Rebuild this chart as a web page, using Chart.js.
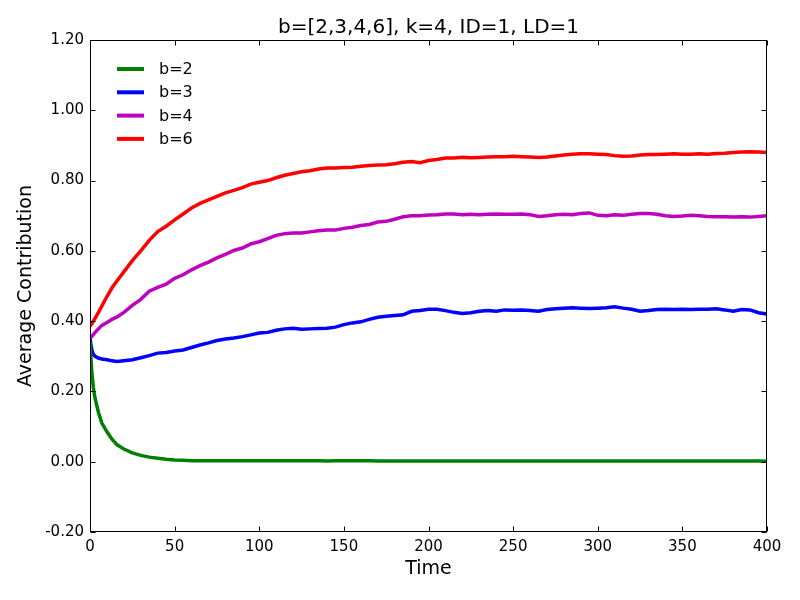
<!DOCTYPE html>
<html>
<head>
<meta charset="utf-8">
<script src="https://cdn.jsdelivr.net/npm/chart.js@4/dist/chart.umd.min.js"></script>
<style>
  html, body { margin: 0; padding: 0; background: #fff; }
  #wrap { width: 800px; height: 600px; }
</style>
</head>
<body>
<div id="wrap"><canvas id="c" width="800" height="600"></canvas></div>
<script>
const chartTitle = "b=[2,3,4,6], k=4, ID=1, LD=1";
const xLabel = "Time";
const yLabel = "Average Contribution";
const seriesLabels = ["b=2", "b=3", "b=4", "b=6"];
const seriesColors = ["#008000", "#0000ff", "#bf00bf", "#ff0000"];

const times = [0,1,2,3,5,7,10,13,16,20,
  25,30,35,40,45,50,55,60,65,70,
  75,80,85,90,95,100,105,110,115,120,
  125,130,135,140,145,150,155,160,165,170,
  175,180,185,190,195,200,205,210,215,220,
  225,230,235,240,245,250,255,260,265,270,
  275,280,285,290,295,300,305,310,315,320,
  325,330,335,340,345,350,355,360,365,370,
  375,380,385,390,395,400];

const b2 = [0.34,0.26,0.21,0.18,0.14,0.11,0.085,0.064,0.048,0.036,
  0.025,0.018,0.013,0.010,0.007,0.005,0.004,0.003,0.003,0.003,
  0.003,0.003,0.003,0.003,0.003,0.003,0.003,0.003,0.003,0.003,
  0.003,0.003,0.003,0.002,0.003,0.003,0.003,0.003,0.003,0.002,
  0.002,0.002,0.002,0.002,0.002,0.002,0.002,0.002,0.002,0.002,
  0.002,0.002,0.002,0.002,0.002,0.002,0.002,0.002,0.002,0.002,
  0.002,0.002,0.002,0.002,0.002,0.002,0.002,0.002,0.002,0.002,
  0.002,0.002,0.002,0.002,0.002,0.002,0.002,0.002,0.002,0.002,
  0.002,0.002,0.002,0.002,0.002,0.001];

const b3 = [0.35,0.32,0.305,0.30,0.295,0.292,0.290,0.287,0.285,0.287,
  0.290,0.296,0.302,0.309,0.311,0.315,0.318,0.325,0.332,0.338,
  0.345,0.349,0.352,0.356,0.361,0.366,0.368,0.374,0.378,0.380,
  0.377,0.378,0.379,0.380,0.383,0.390,0.395,0.398,0.405,0.411,
  0.414,0.416,0.418,0.428,0.430,0.434,0.434,0.430,0.425,0.422,
  0.424,0.428,0.430,0.428,0.432,0.431,0.432,0.430,0.428,0.433,
  0.435,0.437,0.438,0.437,0.436,0.437,0.438,0.441,0.437,0.434,
  0.428,0.430,0.433,0.434,0.433,0.434,0.433,0.434,0.434,0.435,
  0.432,0.428,0.433,0.432,0.424,0.420];

const b4 = [0.352,0.356,0.362,0.368,0.378,0.388,0.396,0.405,0.412,0.425,
  0.445,0.462,0.485,0.496,0.505,0.522,0.532,0.546,0.558,0.568,
  0.580,0.590,0.601,0.608,0.620,0.626,0.635,0.644,0.649,0.651,
  0.651,0.654,0.657,0.659,0.659,0.664,0.667,0.672,0.675,0.682,
  0.684,0.690,0.697,0.700,0.700,0.702,0.703,0.705,0.705,0.703,
  0.704,0.703,0.704,0.705,0.704,0.704,0.705,0.703,0.698,0.700,
  0.703,0.704,0.703,0.706,0.708,0.701,0.700,0.703,0.701,0.704,
  0.706,0.706,0.704,0.700,0.698,0.699,0.701,0.700,0.698,0.697,
  0.697,0.696,0.697,0.696,0.698,0.700];

const b6 = [0.386,0.392,0.400,0.408,0.425,0.443,0.470,0.495,0.515,0.540,
  0.572,0.600,0.630,0.655,0.670,0.688,0.705,0.722,0.735,0.745,
  0.755,0.765,0.772,0.780,0.790,0.795,0.800,0.808,0.815,0.820,
  0.825,0.828,0.833,0.836,0.836,0.837,0.838,0.841,0.843,0.844,
  0.845,0.848,0.852,0.854,0.851,0.857,0.860,0.864,0.864,0.866,
  0.865,0.866,0.867,0.868,0.868,0.869,0.868,0.867,0.866,0.867,
  0.870,0.873,0.875,0.876,0.876,0.875,0.874,0.871,0.869,0.870,
  0.873,0.874,0.874,0.875,0.876,0.875,0.875,0.876,0.875,0.877,
  0.878,0.880,0.881,0.882,0.881,0.880];

const seriesValues = [b2, b3, b4, b6];

const FONT = "'DejaVu Sans', sans-serif";

const datasets = seriesValues.map((vals, i) => ({
  label: seriesLabels[i],
  data: times.map((t, j) => ({ x: t, y: vals[j] })),
  borderColor: seriesColors[i],
  backgroundColor: seriesColors[i],
  borderWidth: 3.5,
  pointRadius: 0,
  tension: 0,
  fill: false
}));

const framePlugin = {
  id: 'frameTicks',
  afterDatasetsDraw(chart) {
    const { ctx, chartArea: a, scales } = chart;
    ctx.save();
    ctx.strokeStyle = '#000';
    ctx.lineWidth = 1;
    const L = Math.round(a.left) + 0.5, R = Math.round(a.right) - 0.5;
    const T = Math.round(a.top) + 0.5, B = Math.round(a.bottom) - 0.5;
    ctx.strokeRect(L, T, R - L, B - T);
    const tl = 5;
    ctx.beginPath();
    scales.x.ticks.forEach(tk => {
      const px = Math.round(scales.x.getPixelForValue(tk.value)) + 0.5;
      ctx.moveTo(px, B); ctx.lineTo(px, B - tl);
      ctx.moveTo(px, T); ctx.lineTo(px, T + tl);
    });
    scales.y.ticks.forEach(tk => {
      const py = Math.round(scales.y.getPixelForValue(tk.value)) + 0.5;
      ctx.moveTo(L, py); ctx.lineTo(L + tl, py);
      ctx.moveTo(R, py); ctx.lineTo(R - tl, py);
    });
    ctx.stroke();

    // title centred over the plot area
    ctx.fillStyle = '#000';
    ctx.font = "20px " + FONT;
    ctx.textAlign = 'center';
    ctx.textBaseline = 'middle';
    ctx.fillText(chartTitle, (a.left + a.right) / 2, a.top - 12);

    // legend (inside plot, upper left, no frame)
    const x0 = a.left + 27, x1 = a.left + 54, tx = a.left + 69;
    const y0 = a.top + 29, dy = 23.3;
    ctx.font = "16px " + FONT;
    ctx.textBaseline = 'middle';
    ctx.textAlign = 'left';
    chart.data.datasets.forEach((ds, i) => {
      const y = y0 + i * dy;
      ctx.strokeStyle = ds.borderColor;
      ctx.lineWidth = 4;
      ctx.beginPath();
      ctx.moveTo(x0, y); ctx.lineTo(x1, y);
      ctx.stroke();
      ctx.fillStyle = '#000';
      ctx.fillText(ds.label, tx, y + 1);
    });
    ctx.restore();
  }
};

new Chart(document.getElementById('c'), {
  type: 'line',
  data: { datasets },
  options: {
    responsive: false,
    animation: false,
    layout: { padding: { left: 0, right: 33, top: 40, bottom: 0 } },
    plugins: {
      legend: { display: false },
      tooltip: { enabled: false },
      title: { display: false }
    },
    scales: {
      x: {
        type: 'linear',
        min: 0, max: 400,
        grid: { display: false, drawTicks: false },
        border: { display: false },
        ticks: { stepSize: 50, color: '#000', padding: 6, maxRotation: 0,
                 font: { family: FONT, size: 15 } },
        title: { display: true, text: xLabel, color: '#000',
                 font: { family: FONT, size: 19 }, padding: { top: 0, bottom: 20 } },
        afterFit(scale) { scale.height = 68; }
      },
      y: {
        min: -0.2, max: 1.2,
        grid: { display: false, drawTicks: false },
        border: { display: false },
        ticks: { stepSize: 0.2, color: '#000', padding: 6,
                 font: { family: FONT, size: 15 },
                 callback: v => (Math.round(v * 100) / 100).toFixed(2) },
        title: { display: true, text: yLabel, color: '#000',
                 font: { family: FONT, size: 19 }, padding: { top: 15, bottom: 0 } },
        afterFit(scale) { scale.width = 90; }
      }
    }
  },
  plugins: [framePlugin]
});
</script>
</body>
</html>
